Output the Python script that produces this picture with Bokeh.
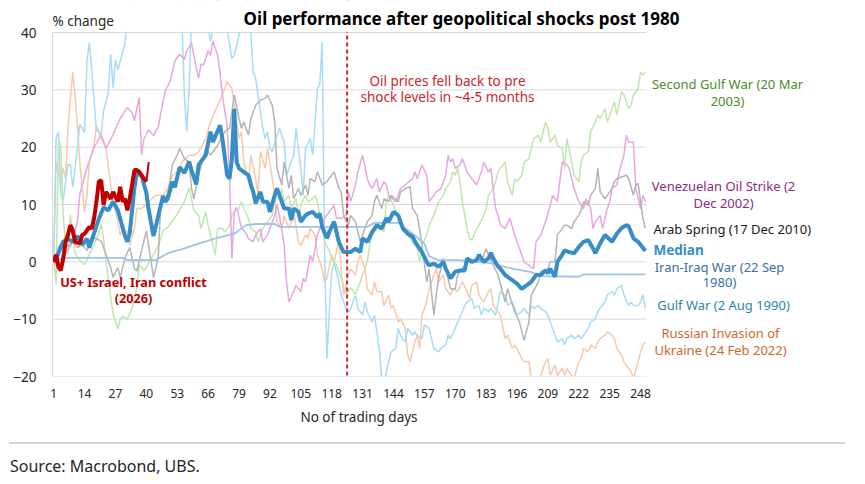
from bokeh.plotting import figure
from bokeh.models import Label, Span, FixedTicker, Range1d, BoxAnnotation, Div
from bokeh.layouts import column
from bokeh.embed import file_html
from bokeh.resources import INLINE

# ---------------- data ----------------
x_ticks = [1, 14, 27, 40, 53, 66, 79, 92, 105, 118, 131, 144, 157, 170, 183, 196, 209, 222, 235, 248]
y_ticks = [-20, -10, 0, 10, 20, 30, 40]

median_days = [1, 2, 3, 4, 5, 7, 9, 11, 13, 15, 16, 18, 20, 22, 24, 26, 28, 30, 31, 32, 33, 34, 35, 36, 38, 40, 41, 43, 45, 47, 48, 49, 51, 52, 54, 56, 58, 59, 61, 62, 65, 67, 68, 71, 72, 74, 75, 76, 77, 78, 79, 81, 83, 84, 85, 86, 88, 89, 91, 92, 94, 95, 97, 98, 100, 101, 102, 104, 105, 107, 108, 110, 112, 113, 114, 116, 117, 119, 121, 123, 126, 128, 130, 131, 133, 135, 137, 139, 141, 142, 144, 146, 148, 150, 152, 154, 156, 158, 159, 161, 163, 165, 166, 168, 170, 172, 174, 175, 177, 179, 180, 182, 184, 185, 186, 188, 189, 191, 194, 196, 198, 200, 202, 204, 206, 208, 209, 210, 212, 213, 215, 216, 218, 220, 222, 224, 226, 228, 229, 231, 233, 236, 238, 240, 242, 243, 245, 247, 250]
median_vals = [0, 0.5, 1.5, 2.5, 3.5, 4.0, 3.5, 4.5, 3.0, 4.0, 2.5, 5.0, 7.5, 9.5, 9.0, 10.5, 9.0, 6.0, 4.5, 3.5, 5.0, 9.0, 13.0, 15.5, 15.0, 12.0, 9.0, 4.5, 8.0, 11.5, 10.5, 11.0, 14.0, 13.0, 16.5, 15.5, 17.5, 16.0, 13.5, 16.9, 18.6, 22.7, 20.9, 23.8, 21.5, 15.1, 14.5, 18.0, 26.7, 17.4, 16.3, 15.7, 15.1, 13.4, 12.2, 10.2, 12.2, 10.5, 10.5, 8.7, 11.6, 12.8, 10.5, 9.3, 9.3, 7.3, 9.3, 8.7, 7.0, 8.1, 8.4, 8.7, 7.8, 8.4, 6.1, 4.1, 5.2, 7.0, 3.5, 1.7, 1.7, 2.3, 1.7, 4.1, 3.5, 5.2, 6.4, 5.8, 7.6, 7.0, 8.7, 8.1, 5.8, 4.9, 4.4, 2.9, 1.7, 0.0, -0.6, -0.3, -0.9, 0.0, -1.2, -2.9, -1.7, -1.5, -1.5, 0.6, 0.0, 0.3, 1.2, 0.0, 0.6, 1.6, 0.6, -0.8, -1.2, -2.3, -3.2, -3.8, -4.7, -4.1, -3.5, -2.3, -2.3, -1.5, -2.0, -1.2, -2.6, 0.0, 1.2, 2.0, 1.7, 1.5, 2.6, 3.5, 3.8, 2.3, 1.5, 3.2, 4.7, 3.5, 4.9, 5.9, 6.4, 6.2, 4.1, 3.5, 1.9]

us_iran_days = [1, 2, 3, 4, 5, 6, 7, 8, 9, 10, 12, 13, 14, 16, 17, 18, 19, 20, 21, 22, 23, 25, 26, 28, 29, 30, 31, 32, 33, 35, 36, 37, 39, 40, 41]
us_iran_vals = [0, 1.2, -0.9, -1.5, 0.5, 3.5, 4.7, 6.4, 5.5, 3.5, 3.2, 4.7, 4.9, 6.1, 5.8, 7.6, 10.5, 14.0, 14.2, 9.9, 12.2, 11.0, 12.2, 10.5, 13.1, 10.5, 11.0, 9.0, 11.0, 16.0, 16.0, 15.7, 14.5, 14.0, 17.4]

iran_iraq_days = [1, 3, 5, 30, 32, 44, 49, 55, 63, 70, 77, 82, 86, 94, 96, 133, 136, 146, 153, 157, 159, 163, 172, 186, 194, 202, 206, 222, 224, 250]
iran_iraq_vals = [0, 0.4, 0.7, 0.7, 0.3, 0.3, 1.5, 2.2, 3.3, 4.2, 4.9, 6.4, 6.6, 6.6, 6.1, 6.1, 6.8, 6.8, 4.6, 3.2, 1.0, 0.3, 0.3, -0.3, -1.2, -1.8, -2.5, -2.6, -2.2, -2.2]

arab_days = [1, 3, 5, 7, 9, 11, 13, 15, 18, 21, 25, 26, 28, 29, 31, 33, 35, 36, 38, 40, 43, 45, 46, 49, 51, 53, 54, 56, 58, 59, 60, 62, 65, 67, 70, 73, 75, 77, 79, 80, 81, 83, 84, 86, 88, 90, 91, 93, 94, 95, 97, 98, 100, 101, 102, 104, 105, 107, 108, 109, 111, 112, 114, 116, 118, 119, 121, 122, 123, 125, 126, 128, 130, 131, 133, 135, 136, 137, 139, 140, 142, 143, 146, 147, 149, 151, 152, 154, 155, 156, 158, 159, 161, 162, 163, 165, 166, 168, 170, 171, 173, 175, 177, 179, 181, 183, 184, 186, 188, 191, 192, 195, 197, 199, 201, 202, 205, 206, 209, 210, 212, 213, 215, 216, 217, 219, 220, 222, 223, 224, 226, 227, 229, 230, 231, 233, 234, 236, 237, 238, 240, 242, 243, 245, 246, 247, 248, 249, 250]
arab_vals = [0, 2.5, 3.7, 2.7, 3.5, 2.5, 3.0, 2.0, 4.2, 3.6, -1.0, -2.7, -1.0, -2.7, 0.7, 2.5, -1.2, -1.6, 2.0, 5.4, -2.7, 0.7, 9.4, 12.0, 17.0, 18.6, 19.8, 18.0, 17.4, 12.8, 11.0, 15.1, 19.8, 18.6, 20.3, 22.7, 23.3, 29.1, 25.0, 23.3, 24.4, 22.1, 25.0, 27.3, 28.2, 28.5, 29.1, 27.3, 24.4, 16.3, 13.4, 17.4, 12.8, 15.1, 11.0, 12.8, 11.6, 13.4, 11.6, 14.5, 14.0, 15.7, 13.4, 14.0, 15.1, 15.7, 12.8, 12.2, 8.1, 6.4, 8.1, 7.0, 3.5, 4.7, 7.0, 8.1, 10.5, 11.6, 9.3, 11.0, 10.5, 11.6, 10.5, 12.2, 12.8, 13.1, 9.3, 8.1, 5.8, 2.9, -3.5, -1.2, -9.3, -5.8, -2.9, 0.6, -1.2, -4.7, -4.7, -2.3, -1.2, 0.0, 0.0, 0.6, 0.0, 2.3, 1.2, -0.6, -2.3, -7.0, -4.7, -8.7, -10.5, -13.7, -10.5, -5.8, -3.5, -1.7, -1.2, 0.0, 0.0, 4.7, 5.8, 6.4, 6.4, 5.8, 7.0, 8.1, 9.0, 10.5, 9.9, 11.6, 12.8, 16.3, 12.2, 11.0, 11.6, 12.8, 14.0, 14.5, 14.8, 15.1, 14.5, 11.6, 13.4, 13.7, 10.5, 7.6, 5.8]

venez_days = [1, 3, 5, 7, 9, 11, 12, 15, 18, 21, 23, 26, 29, 32, 34, 35, 37, 38, 39, 41, 43, 45, 47, 48, 50, 52, 54, 56, 57, 59, 61, 62, 63, 64, 66, 67, 68, 70, 71, 72, 74, 75, 76, 77, 78, 80, 82, 83, 85, 86, 88, 89, 91, 93, 94, 95, 96, 98, 99, 100, 102, 103, 105, 106, 107, 109, 110, 112, 113, 115, 117, 119, 120, 122, 124, 125, 126, 128, 129, 131, 133, 134, 135, 137, 138, 140, 141, 142, 145, 146, 147, 149, 152, 153, 154, 156, 158, 159, 161, 162, 164, 166, 167, 168, 169, 170, 172, 173, 175, 177, 179, 181, 182, 184, 185, 187, 188, 189, 191, 193, 195, 196, 198, 199, 201, 203, 204, 206, 208, 210, 211, 213, 214, 215, 217, 218, 220, 221, 222, 224, 225, 227, 228, 229, 231, 232, 234, 235, 236, 238, 239, 241, 242, 243, 245, 246, 248, 249, 250]
venez_vals = [0, -1.0, 1.0, 2.0, 3.5, 7.0, 11.8, 16.4, 19.9, 22.2, 19.8, 22.2, 25.0, 26.9, 26.0, 24.6, 28.7, 18.7, 21.5, 23.0, 22.0, 23.5, 28.0, 29.8, 31.5, 35.0, 36.2, 35.3, 36.8, 38.2, 33.8, 32.0, 34.5, 34.3, 36.8, 36.0, 38.5, 36.0, 33.0, 29.0, 23.8, 15.0, 0.6, 8.7, 9.5, 6.0, 5.0, 4.0, 3.5, 4.7, 5.8, 3.5, 4.7, 7.0, 8.1, 10.0, 8.1, 2.9, -3.5, -7.0, -5.2, -4.1, -5.2, -2.9, -3.5, 1.2, 0.0, 4.7, 5.8, 7.6, 8.7, 9.9, 7.6, 7.6, 8.1, 12.2, 10.5, 13.4, 15.7, 18.6, 14.5, 13.4, 12.8, 14.5, 12.2, 14.0, 13.4, 11.6, 10.5, 11.6, 12.8, 13.4, 14.5, 15.7, 14.5, 16.9, 15.1, 10.5, 11.6, 12.2, 12.8, 15.1, 18.6, 17.4, 18.0, 16.3, 16.9, 18.0, 15.7, 14.5, 13.4, 15.7, 17.4, 15.7, 16.3, 9.3, 8.1, 6.4, 5.8, 7.6, 4.7, 3.5, 1.2, 0.0, -0.6, -1.2, 3.5, 4.7, 7.0, 9.9, 11.6, 10.5, 14.0, 17.4, 16.9, 16.3, 12.8, 11.6, 10.5, 9.3, 11.0, 9.3, 5.8, 7.0, 8.1, 5.8, 9.3, 10.5, 12.8, 13.4, 15.7, 18.6, 22.1, 20.9, 20.9, 12.8, 9.3, 11.6, 10.5]

gulf2_days = [1, 2, 3, 4, 5, 6, 7, 8, 9, 10, 12, 14, 16, 18, 20, 21, 22, 24, 26, 28, 29, 30, 32, 33, 34, 36, 37, 39, 42, 45, 47, 49, 52, 54, 56, 58, 60, 62, 63, 65, 66, 67, 69, 70, 72, 73, 75, 76, 77, 79, 80, 81, 83, 84, 86, 87, 89, 90, 91, 93, 94, 96, 97, 98, 100, 101, 103, 104, 105, 107, 108, 110, 111, 112, 114, 115, 117, 118, 120, 122, 124, 126, 128, 130, 131, 133, 134, 135, 137, 138, 140, 141, 142, 144, 146, 148, 150, 152, 154, 155, 156, 158, 159, 161, 162, 163, 165, 166, 168, 169, 170, 171, 172, 173, 175, 176, 177, 179, 180, 182, 183, 184, 186, 187, 188, 189, 191, 192, 194, 195, 196, 198, 199, 201, 202, 203, 205, 206, 208, 209, 210, 212, 213, 215, 216, 217, 219, 220, 222, 223, 224, 226, 227, 229, 230, 231, 233, 234, 236, 237, 238, 240, 241, 243, 244, 245, 247, 248, 249, 250]
gulf2_vals = [0, -3.8, 21.5, 20.0, 8.0, 3.0, 1.3, 8.3, 4.0, 1.5, 0.3, -0.5, 1.3, 3.0, 5.0, 6.6, 4.0, -3.3, -9.1, -11.7, -10.0, -9.5, -10.0, -9.0, -8.0, -4.5, -0.5, -1.6, 0.5, 2.8, 5.4, 6.0, 7.7, 9.0, 10.5, 12.9, 9.0, 8.1, 5.8, 8.7, 6.4, 4.7, 1.2, 5.8, 5.8, 5.2, 6.4, 8.1, 8.7, 9.3, 10.5, 9.3, 7.6, 5.8, 5.2, 3.5, 5.8, 6.4, 7.0, 8.1, 11.6, 11.0, 12.8, 10.5, 11.6, 9.3, 11.0, 8.1, 9.9, 11.6, 10.5, 11.0, 11.6, 10.5, 5.8, 3.5, 1.9, 0.6, -0.6, -2.7, -5.6, -4.5, -5.6, -3.5, -2.3, 0.0, 2.9, 4.7, 5.8, 6.4, 5.2, 10.5, 11.6, 9.9, 8.1, 5.8, 4.7, 3.5, 2.3, 0.0, 2.9, 4.7, 6.4, 8.1, 9.3, 10.5, 11.6, 12.8, 14.0, 15.7, 15.1, 16.3, 14.0, 10.5, 5.8, 4.1, 3.8, 5.8, 6.4, 8.1, 9.3, 11.6, 12.8, 14.0, 15.7, 16.3, 17.4, 14.0, 11.6, 14.5, 14.0, 15.1, 17.4, 18.0, 19.8, 21.5, 22.1, 20.9, 24.4, 23.3, 20.9, 22.1, 20.3, 19.8, 16.3, 21.5, 17.4, 15.1, 14.0, 17.4, 18.6, 19.2, 22.7, 24.4, 25.6, 25.0, 26.7, 24.4, 26.7, 27.9, 25.6, 29.7, 29.1, 26.7, 27.3, 29.1, 30.2, 33.1, 32.6, 33.1, 30.0]

gulf1_days = [1, 2, 3, 4, 5, 6, 7, 8, 9, 10, 11, 12, 14, 15, 16, 17, 18, 19, 21, 22, 24, 25, 26, 27, 28, 29, 31, 32, 34, 37, 40, 43, 46, 49, 52, 54, 55, 56, 57, 58, 59, 61, 64, 66, 67, 68, 70, 72, 74, 76, 77, 79, 80, 83, 85, 86, 87, 89, 90, 91, 92, 93, 95, 96, 98, 99, 100, 102, 103, 105, 106, 107, 109, 110, 112, 113, 114, 115, 116, 117, 118, 119, 121, 122, 124, 125, 126, 128, 129, 131, 132, 133, 135, 136, 138, 139, 140, 142, 143, 145, 146, 147, 149, 150, 152, 153, 154, 156, 157, 159, 160, 161, 163, 164, 166, 167, 168, 170, 171, 173, 174, 175, 177, 178, 180, 181, 182, 184, 185, 187, 189, 191, 192, 194, 195, 196, 198, 199, 201, 202, 203, 205, 206, 208, 209, 210, 212, 213, 215, 216, 217, 219, 220, 222, 223, 224, 226, 227, 229, 230, 231, 233, 234, 236, 237, 238, 240, 241, 243, 244, 245, 247, 248, 249, 250]
gulf1_vals = [0, 21.5, 22.7, 12.0, 10.6, 14.0, 16.9, 17.0, 13.0, 16.4, 20.0, 24.0, 22.5, 35.0, 38.2, 33.8, 28.0, 23.0, 22.3, 26.3, 29.6, 36.2, 30.3, 35.2, 33.5, 35.0, 38.0, 42.0, 46.0, 52.0, 48.0, 55.0, 50.0, 47.0, 53.0, 46.0, 42.0, 29.0, 22.8, 30.0, 42.0, 48.0, 50.0, 41.0, 38.5, 40.5, 46.0, 44.0, 40.5, 35.5, 36.0, 39.5, 44.0, 46.0, 33.0, 32.0, 29.1, 23.3, 21.5, 22.7, 19.8, 19.2, 22.1, 23.3, 20.9, 15.1, 16.3, 18.6, 23.3, 16.3, 11.6, 19.8, 21.5, 18.6, 30.2, 31.0, 38.4, 2.0, -16.9, -8.7, -1.7, 0.0, -3.5, -5.8, -8.1, -8.7, -8.1, -5.8, -8.1, -9.3, -7.0, -8.7, -10.5, -9.3, -15.1, -19.8, -21.0, -17.4, -15.7, -15.1, -11.6, -12.8, -14.0, -11.6, -12.8, -12.2, -12.8, -13.4, -11.0, -11.6, -13.4, -15.1, -15.7, -15.1, -14.5, -12.8, -13.4, -11.6, -10.5, -8.7, -7.6, -7.0, -6.4, -8.1, -7.6, -9.3, -8.1, -8.7, -8.1, -9.3, -5.2, -5.8, -7.6, -7.0, -8.1, -9.3, -8.7, -8.1, -9.3, -7.6, -8.1, -7.6, -8.1, -8.7, -9.3, -10.5, -12.8, -14.0, -13.4, -14.5, -13.4, -12.8, -13.4, -12.8, -13.4, -12.8, -11.6, -10.5, -9.9, -8.7, -8.1, -7.0, -5.8, -5.2, -5.8, -4.7, -4.1, -5.8, -7.6, -7.0, -7.6, -7.6, -7.0, -5.8, -8.1]

russia_days = [1, 2, 4, 5, 6, 7, 9, 10, 11, 12, 14, 15, 16, 18, 19, 21, 23, 25, 26, 28, 29, 30, 32, 33, 35, 36, 38, 41, 44, 47, 49, 51, 53, 55, 58, 60, 62, 65, 67, 70, 72, 74, 76, 77, 79, 80, 81, 83, 84, 86, 87, 88, 90, 91, 93, 94, 95, 97, 98, 100, 101, 102, 104, 105, 107, 108, 109, 111, 112, 114, 115, 116, 118, 119, 121, 122, 123, 125, 126, 128, 129, 130, 132, 133, 135, 136, 137, 139, 140, 142, 143, 144, 146, 147, 149, 150, 151, 153, 154, 155, 156, 158, 159, 161, 162, 163, 165, 166, 168, 169, 171, 173, 175, 176, 177, 179, 180, 182, 184, 185, 186, 189, 191, 192, 194, 195, 196, 198, 199, 201, 202, 203, 205, 206, 208, 209, 210, 212, 213, 215, 216, 217, 219, 220, 222, 223, 224, 226, 227, 229, 230, 231, 233, 234, 236, 237, 238, 240, 241, 243, 244, 245, 247, 248, 249, 250]
russia_vals = [0, 17.4, 13.4, 16.3, 14.5, 23.3, 33.1, 29.1, 23.8, 17.4, 8.7, 11.6, 17.4, 20.3, 23.8, 21.5, 19.8, 13.4, 10.5, 7.0, 4.7, 5.8, 5.2, 2.9, 5.8, 9.3, 9.3, 10.5, 11.6, 11.6, 12.8, 15.1, 15.7, 17.4, 18.6, 18.6, 19.2, 21.5, 24.4, 27.3, 29.1, 31.4, 30.2, 27.3, 21.5, 22.7, 17.4, 14.0, 18.6, 14.5, 11.6, 19.2, 16.3, 19.8, 14.5, 11.6, 7.0, 5.8, 8.1, 5.8, 7.0, 8.7, 3.5, 2.9, 4.7, 4.1, 5.8, 4.7, 1.2, -1.2, -3.5, -2.9, 1.2, 0.0, 3.5, -1.2, -5.8, -2.3, -1.2, -2.3, 0.0, 1.2, -1.2, -4.7, -5.8, -3.5, -5.2, -5.2, -7.6, -5.8, -8.1, -7.6, -10.5, -9.9, -11.6, -16.3, -17.4, -14.0, -12.8, -15.1, -9.3, -7.0, -4.7, -2.3, -1.2, -3.5, -2.3, -4.7, -5.8, -4.7, -5.2, -3.5, -5.2, -6.4, -4.1, -3.5, -5.8, -7.0, -5.2, -4.7, -7.6, -9.3, -13.4, -12.8, -15.1, -14.5, -15.1, -16.9, -17.4, -17.4, -20.3, -22.1, -20.9, -19.8, -17.4, -16.9, -19.8, -18.0, -19.8, -18.6, -19.8, -18.6, -19.8, -20.3, -17.4, -16.9, -15.1, -15.7, -14.5, -15.1, -14.0, -13.4, -12.8, -12.2, -12.8, -13.4, -15.1, -16.3, -17.4, -18.6, -19.2, -20.3, -17.4, -15.7, -14.5, -14.0]

series_labels = ["Second Gulf War (20 Mar\n2003)", "Venezuelan Oil Strike (2\nDec 2002)", "Arab Spring (17 Dec 2010)", "Median",
                 "Iran-Iraq War (22 Sep\n1980)", "Gulf War (2 Aug 1990)", "Russian Invasion of\nUkraine (24 Feb 2022)"]
shock_day = 124.5
last_day = 250.5

# ---------------- geometry (screen px of the 865x484 page) ----------------
FL, FT = 52, 0                  # frame of the main figure starts at page x=52, y=0
PX_PER_DAY = 594 / 250.0
PX_PER_PCT = 344 / 60.0
X0 = 0.5
XR = X0 + (865 - FL) / PX_PER_DAY          # frame runs to the right page edge
YB = -20
YT = 40 + 32 / PX_PER_PCT                   # frame runs to the top page edge
MAIN_H = 405


def dx(px):
    return X0 + (px - FL) / PX_PER_DAY


def dy(py):
    return YT - (py - FT) / PX_PER_PCT


FONT = "Noto Sans"
NS = 1.362   # Noto Sans ascent+descent, used to turn pixel line spacing into text_line_height

p = figure(width=865, height=MAIN_H, x_range=Range1d(X0, XR), y_range=Range1d(YB, YT),
           output_backend="svg", toolbar_location=None,
           min_border_left=FL, min_border_right=0, min_border_top=0,
           min_border_bottom=MAIN_H - 376)
p.outline_line_color = None
p.background_fill_color = "white"
p.border_fill_color = "white"
p.xgrid.grid_line_color = None
p.ygrid.grid_line_color = None

p.xaxis.ticker = FixedTicker(ticks=x_ticks)
p.yaxis.ticker = FixedTicker(ticks=y_ticks)
p.yaxis.bounds = (YB, 40)
for ax in (p.xaxis[0], p.yaxis[0]):
    ax.major_tick_line_color = None
    ax.minor_tick_line_color = None
    ax.major_label_text_color = "#262626"
    ax.major_label_text_font = FONT
p.yaxis.axis_line_color = "#d9d9d9"
p.xaxis.axis_line_color = None
p.xaxis.major_label_text_font_size = "12px"
p.xaxis.major_label_standoff = 6
p.yaxis.major_label_text_font_size = "13.5px"
p.yaxis.major_label_standoff = 10

# horizontal gridlines at the y ticks, only across the data area
p.segment(x0=[X0] * len(y_ticks), x1=[last_day] * len(y_ticks), y0=y_ticks, y1=y_ticks,
          line_color="#d9d9d9", line_width=1, level="underlay")

# thin series
p.line(russia_days, russia_vals, line_color="#f7c8ab", line_width=1.5)
p.line(gulf1_days, gulf1_vals, line_color="#a6dcf5", line_width=1.5)
p.line(gulf2_days, gulf2_vals, line_color="#bfe6ae", line_width=1.5)
p.line(venez_days, venez_vals, line_color="#e8a6e0", line_width=1.5)
p.line(arab_days, arab_vals, line_color="#b4b4b4", line_width=1.5)
p.line(iran_iraq_days, iran_iraq_vals, line_color="#9dc3ec", line_width=1.8)
# median and current episode
p.line(median_days, median_vals, line_color="#378dc8", line_width=4)
p.line(us_iran_days[:-1], us_iran_vals[:-1], line_color="#c00000", line_width=4)
p.line(us_iran_days[-2:], us_iran_vals[-2:], line_color="#c00000", line_width=2)

p.add_layout(Span(location=shock_day, dimension="height", line_color="#d3262b",
                  line_dash="4 3", line_width=2))
# the area above +40 % is outside the chart: cover it so lines leave the chart there
p.add_layout(BoxAnnotation(bottom=40.12, fill_color="white", fill_alpha=1.0, line_color=None))


def add_label(px, py, text, color, size=13.0, bold=False, align="center", spacing=None):
    kw = {}
    if spacing is not None:
        kw["text_line_height"] = spacing / (size * NS)
    p.add_layout(Label(x=dx(px), y=dy(py), text=text, text_color=color,
                       text_font=FONT, text_font_size=f"{size}px",
                       text_font_style="bold" if bold else "normal",
                       text_align=align, text_baseline="middle", **kw))


# titles
add_label(461, 18, "Oil performance after geopolitical shocks post 1980", "#000000", size=17, bold=True)
add_label(52, 20, "% change", "#262626", size=13.5, align="left")

# in-plot annotations
add_label(447, 88.5, "Oil prices fell back to pre\nshock levels in ~4-5 months", "#c9262c", size=13.5, spacing=17)
add_label(133, 289.5, "US+ Israel, Iran conflict\n(2026)", "#c00000", size=12.7, bold=True, spacing=15.5)

# right-hand series labels
add_label(727, 92, series_labels[0], "#4d8b2b", spacing=16)
add_label(723, 194, series_labels[1], "#8c2a83", spacing=16)
add_label(653, 228, series_labels[2], "#1a1a1a", align="left")
add_label(653, 249, series_labels[3], "#378dc8", size=13.5, bold=True, align="left")
add_label(719, 274, series_labels[4], "#3d6ea8", spacing=14)
add_label(723, 304, series_labels[5], "#2a87ad")
add_label(720, 341, series_labels[6], "#d2672d", spacing=16)

# footer: axis title, separator rule and source note
footer_html = (
    "<div style=\"position:relative;width:865px;height:79px;font-family:'Noto Sans',sans-serif;color:#262626\">"
    "<div style=\"position:absolute;left:0;top:3px;width:718px;text-align:center;font-size:13.5px;line-height:18px\">"
    "No of trading days</div>"
    "<div style=\"position:absolute;left:9px;top:37px;width:836px;height:0;border-top:2px solid #d4d4d4\"></div>"
    "<div style=\"position:absolute;left:10px;top:51px;font-size:16px;line-height:20px;white-space:nowrap\">"
    "Source: Macrobond, UBS.</div>"
    "</div>"
)
footer = Div(text=footer_html, width=865, height=484 - MAIN_H, margin=0)

layout = column(p, footer, spacing=0)
open("out.html", "w").write(file_html(layout, INLINE))
